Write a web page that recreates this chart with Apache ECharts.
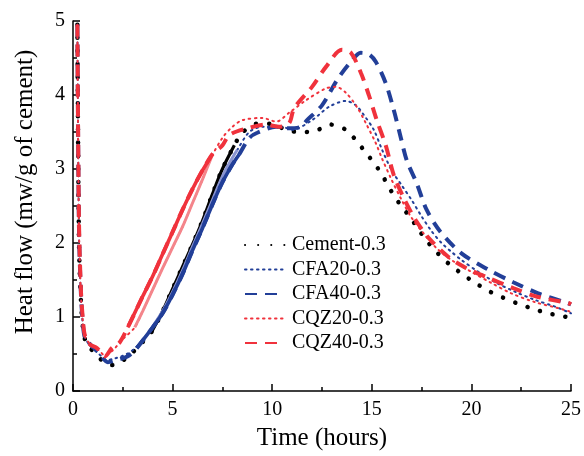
<!DOCTYPE html>
<html>
<head>
<meta charset="utf-8">
<script src="https://cdn.jsdelivr.net/npm/echarts@6/dist/echarts.min.js"></script>
<style>html,body{margin:0;padding:0;background:#fff}#c{width:584px;height:456px}</style>
</head>
<body>
<div id="c"></div>
<script>
// ---- data ----
const seriesNames = ['Cement-0.3', 'CFA20-0.3', 'CFA40-0.3', 'CQZ20-0.3', 'CQZ40-0.3'];
const xTicks = [0, 5, 10, 15, 20, 25];
const yTicks = [0, 1, 2, 3, 4, 5];

const timeCement = [0.22,0.3,0.4,0.5,0.6,0.85,1.2,1.5,2.0,2.75,3.2,3.95,4.5,5.0,5.5,6.0,6.5,7.0,7.5,8.1,8.5,9.2,9.95,10.7,11.35,12.1,12.95,13.7,14.2,14.7,15.2,15.6,16.0,16.45,16.95,17.35,17.85,18.35,18.95,19.6,20.2,20.95,21.6,22.35,23.1,23.85,24.6,25.0];
const flowCement = [4.95,2.0,1.2,0.85,0.7,0.58,0.5,0.4,0.35,0.46,0.58,0.8,1.08,1.38,1.68,1.98,2.3,2.66,3.0,3.32,3.49,3.61,3.61,3.53,3.5,3.51,3.6,3.53,3.39,3.22,3.05,2.88,2.69,2.51,2.34,2.18,2.0,1.85,1.7,1.57,1.46,1.34,1.26,1.18,1.11,1.05,1.01,0.99];

const timeCFA20 = [0.22,0.3,0.4,0.5,0.6,0.9,1.3,1.7,2.1,2.7,3.2,4.0,4.5,5.0,5.5,6.0,6.5,7.0,7.5,8.0,8.25,8.85,9.5,10.5,11.0,12.0,12.85,13.7,14.2,14.6,15.1,15.5,16.0,16.5,17.0,17.5,18.0,18.5,19.0,19.5,20.35,21.2,22.2,23.2,24.2,25.0];
const flowCFA20 = [4.95,2.1,1.25,0.88,0.72,0.6,0.5,0.42,0.44,0.5,0.6,0.87,1.08,1.34,1.63,1.95,2.26,2.58,2.9,3.15,3.26,3.5,3.57,3.57,3.53,3.66,3.84,3.92,3.86,3.73,3.53,3.27,2.98,2.78,2.58,2.36,2.16,2.0,1.88,1.77,1.61,1.47,1.34,1.23,1.14,1.05];

const timeCFA40 = [0.22,0.3,0.4,0.5,0.6,0.9,1.3,1.75,2.2,2.75,3.2,4.0,4.5,5.0,5.5,6.0,6.5,7.0,7.5,8.0,8.35,8.85,9.25,10.2,10.7,11.45,11.75,12.5,13.25,13.95,14.45,14.85,15.2,15.7,16.1,16.45,16.75,17.25,17.75,18.45,19.5,20.85,22.1,23.35,24.7,25.0];
const flowCFA40 = [4.95,2.2,1.3,0.9,0.72,0.62,0.52,0.39,0.42,0.47,0.58,0.86,1.05,1.3,1.58,1.9,2.2,2.52,2.82,3.06,3.2,3.42,3.49,3.57,3.55,3.57,3.66,3.86,4.2,4.45,4.57,4.55,4.45,4.16,3.8,3.43,3.12,2.81,2.45,2.15,1.86,1.64,1.47,1.32,1.2,1.17];

const timeCQZ20 = [0.22,0.3,0.4,0.5,0.6,0.9,1.3,1.6,2.0,2.5,3.1,3.5,4.0,4.5,5.0,5.5,6.0,6.5,6.95,7.5,8.0,8.5,9.5,10.2,10.85,11.7,12.7,13.2,13.7,14.25,14.7,15.2,15.5,15.95,16.5,17.0,17.6,18.25,19.0,20.0,21.0,22.0,23.2,24.35,25.0];
const flowCQZ20 = [4.95,2.2,1.3,0.92,0.74,0.62,0.55,0.48,0.55,0.7,0.86,1.08,1.37,1.66,1.94,2.22,2.54,2.86,3.16,3.42,3.57,3.66,3.69,3.64,3.76,3.93,4.09,4.11,4.03,3.84,3.62,3.35,3.15,2.88,2.58,2.34,2.13,1.93,1.77,1.61,1.46,1.32,1.2,1.12,1.07];

const timeCQZ40 = [0.22,0.3,0.4,0.5,0.6,0.85,1.2,1.6,1.95,2.35,2.75,3.5,4.0,4.5,5.0,5.5,6.0,6.5,7.0,7.5,7.85,8.75,9.7,10.35,10.85,11.1,12.0,12.7,13.5,13.95,14.45,14.85,15.25,15.7,16.1,16.6,17.2,17.85,18.85,19.75,20.85,22.1,23.35,24.85,25.0];
const flowCQZ40 = [4.95,2.3,1.35,0.95,0.75,0.63,0.58,0.47,0.58,0.66,0.86,1.28,1.55,1.85,2.15,2.45,2.73,2.98,3.2,3.32,3.46,3.55,3.6,3.57,3.62,3.82,4.11,4.38,4.61,4.57,4.3,4.0,3.66,3.32,2.92,2.61,2.31,2.07,1.81,1.66,1.53,1.39,1.27,1.19,1.17];

// ---- build ----
const zip = (t, v) => t.map((x, i) => [x, v[i]]);
const allData = [
  zip(timeCement, flowCement),
  zip(timeCFA20, flowCFA20),
  zip(timeCFA40, flowCFA40),
  zip(timeCQZ20, flowCQZ20),
  zip(timeCQZ40, flowCQZ40)
];
const BLUE = '#223f98', RED = '#f0323c';
const styles = [
  { color: '#000', width: 4.5, type: [0.1, 13], cap: 'round' },
  { color: BLUE, width: 2, type: [1.5, 4.5], cap: 'round' },
  { color: BLUE, width: 4, type: [12, 8], cap: 'butt' },
  { color: RED, width: 2, type: [1.5, 4.5], cap: 'round' },
  { color: RED, width: 4, type: [12, 8], cap: 'butt' }
];
// dense acceleration segments appear solid in the original
const solidRange = [[3.95, 8.1], [4.0, 8.25], [3.2, 8.35], [3.1, 6.95], [2.75, 7.0]];
const solidColor = ['#000', '#8a94d0', BLUE, '#f4858b', RED];
const solidWidth = [3.2, 3, 3.6, 3, 3.6];

const series = [];
allData.forEach((d, i) => {
  series.push({
    name: seriesNames[i], type: 'line', data: d, symbol: 'none', smooth: 0.3,
    lineStyle: styles[i], itemStyle: { color: styles[i].color }, z: 2 + i, animation: false
  });
});
allData.forEach((d, i) => {
  series.push({
    name: 'solid' + i, type: 'line', symbol: 'none', smooth: 0.3,
    data: d.filter(p => p[0] >= solidRange[i][0] && p[0] <= solidRange[i][1]),
    lineStyle: { color: solidColor[i], width: solidWidth[i], type: 'solid' }, z: 2 + i, animation: false
  });
});

const chart = echarts.init(document.getElementById('c'), null, { renderer: 'canvas' });
const FONT = 'Liberation Serif';
chart.setOption({
  animation: false,
  backgroundColor: '#fff',
  grid: { left: 73, right: 11, top: 21, bottom: 65 },
  xAxis: {
    type: 'value', min: 0, max: 25, interval: 5,
    name: 'Time (hours)', nameLocation: 'middle', nameGap: 35,
    nameTextStyle: { fontFamily: FONT, fontSize: 25, color: '#000' },
    axisLine: { lineStyle: { color: '#000', width: 1.5 } },
    axisTick: { inside: true, length: 7, lineStyle: { color: '#000', width: 1.5 } },
    minorTick: { show: true, splitNumber: 2, length: 4, lineStyle: { color: '#000', width: 1.5 } },
    axisLabel: { fontFamily: FONT, fontSize: 20, color: '#000', margin: 9, formatter: v => xTicks.includes(v) ? String(v) : '' },
    splitLine: { show: false }
  },
  yAxis: {
    type: 'value', min: 0, max: 5, interval: 1,
    name: 'Heat flow (mw/g of cement)', nameLocation: 'middle', nameGap: 35,
    nameTextStyle: { fontFamily: FONT, fontSize: 25, color: '#000', padding: [0, 0, 0, 28] },
    axisLine: { show: true, lineStyle: { color: '#000', width: 1.5 } },
    axisTick: { show: true, inside: true, length: 7, lineStyle: { color: '#000', width: 1.5 } },
    minorTick: { show: true, splitNumber: 2, length: 4, lineStyle: { color: '#000', width: 1.5 } },
    axisLabel: { fontFamily: FONT, fontSize: 20, color: '#000', margin: 8, formatter: v => yTicks.includes(v) ? String(v) : '' },
    splitLine: { show: false }
  },
  legend: {
    data: seriesNames, orient: 'vertical', left: 239, top: 230,
    itemWidth: 40, itemHeight: 14, itemGap: 4.5,
    itemStyle: { opacity: 0 },
    textStyle: { fontFamily: FONT, fontSize: 20, color: '#000', lineHeight: 20, padding: [0, 0, 0, 2] }
  },
  series: series
});
</script>
</body>
</html>
